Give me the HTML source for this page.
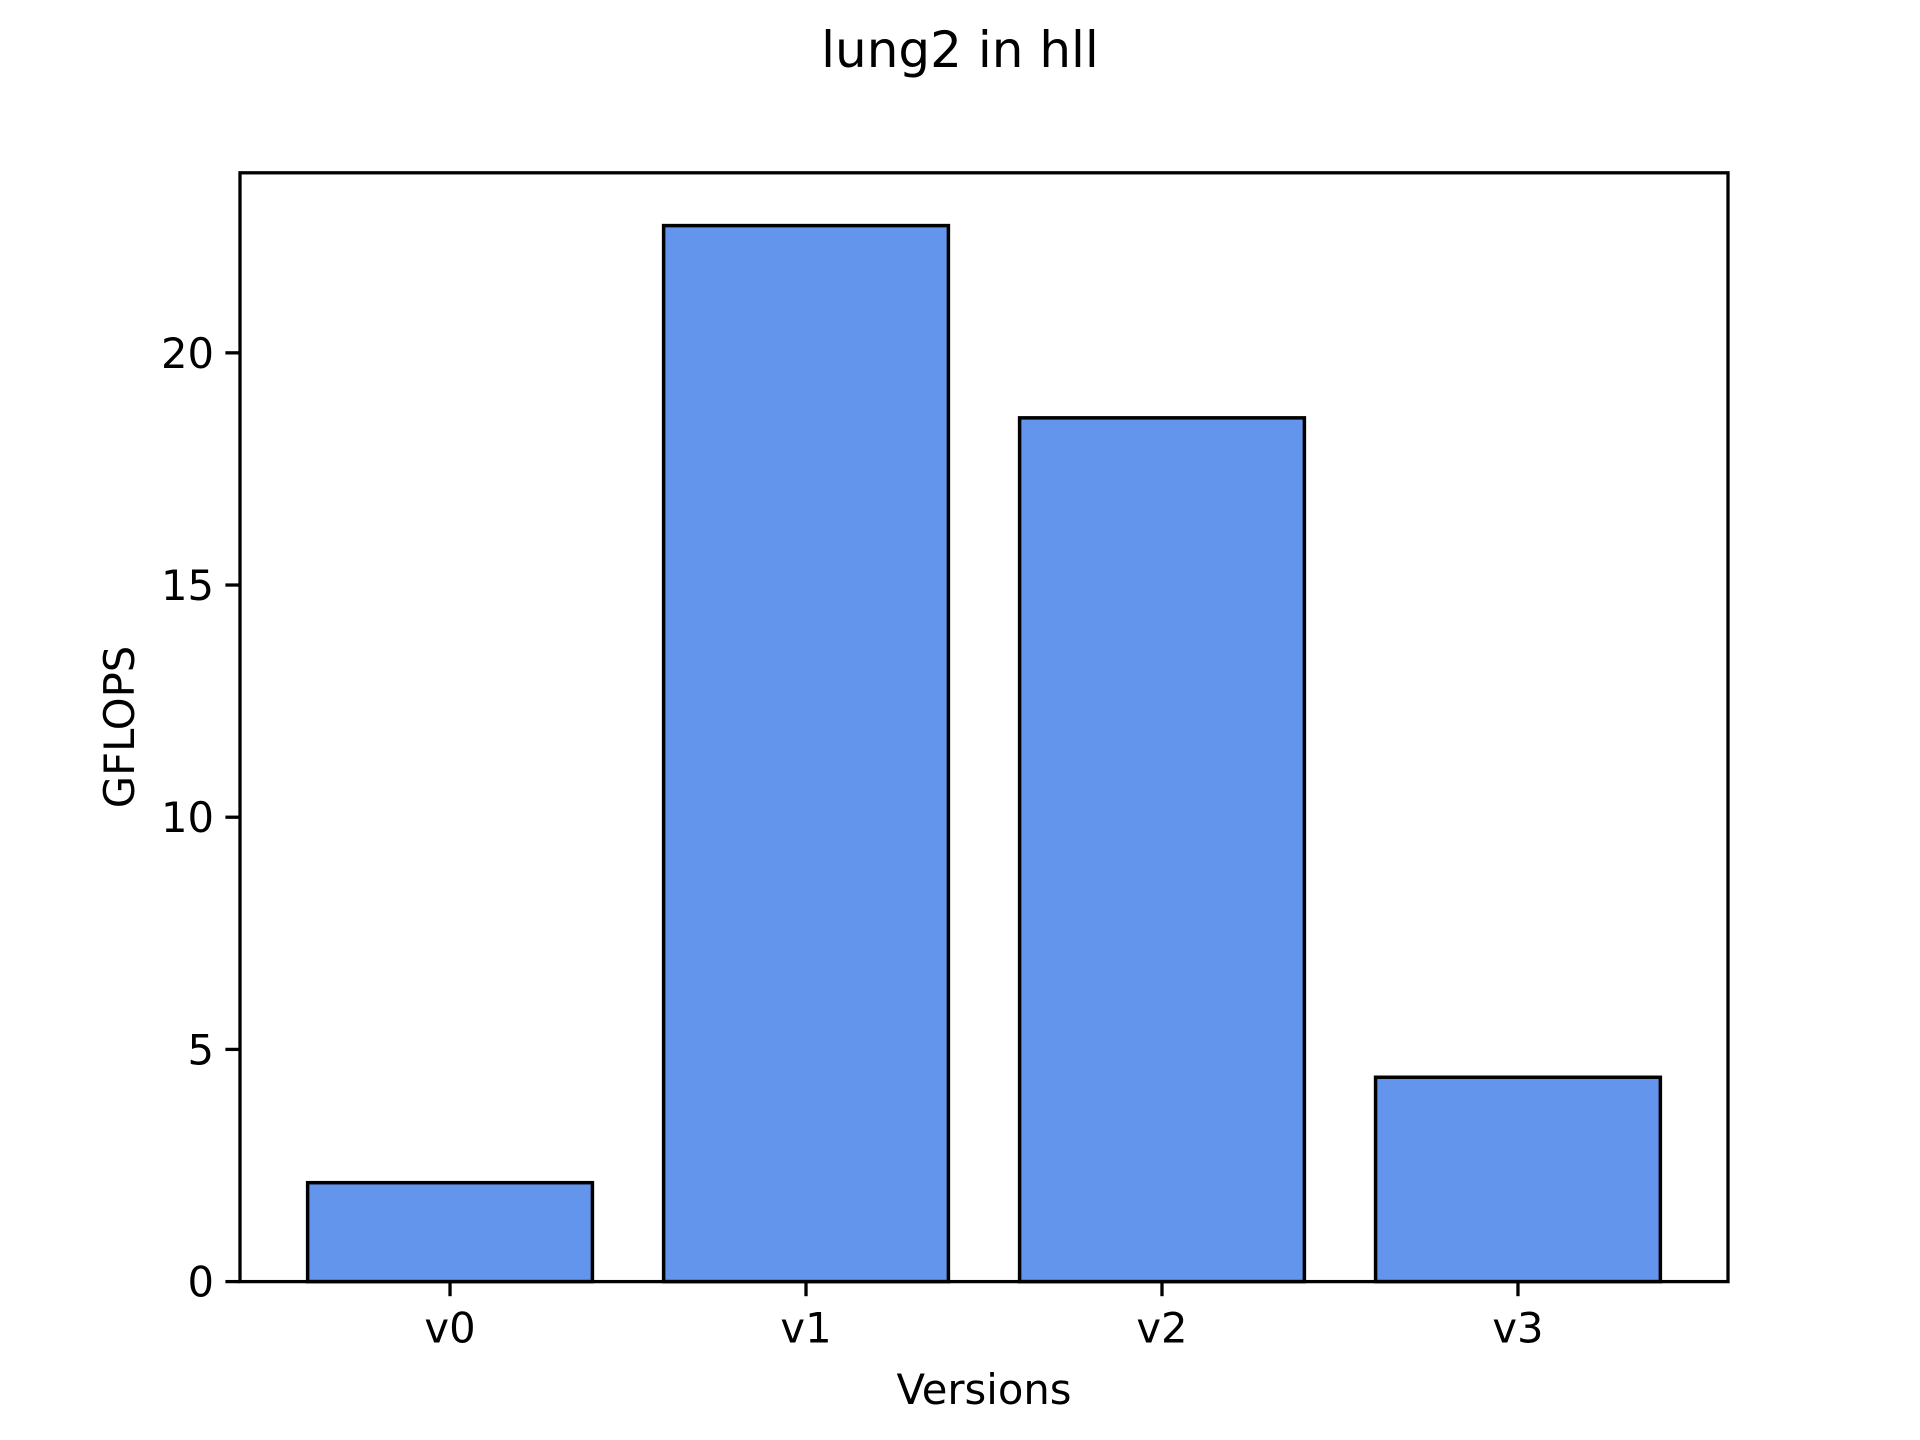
<!DOCTYPE html>
<html><head><meta charset="utf-8"><style>html,body{margin:0;padding:0;background:#fff}svg{display:block}text{font-family:"DejaVu Sans","Liberation Sans",sans-serif;fill:#000}</style></head>
<body>
<svg id="chart" width="1920" height="1440" viewBox="0 0 1920 1440" xmlns="http://www.w3.org/2000/svg">
<rect width="1920" height="1440" fill="#fff"/>
<text x="960" y="67" font-size="50" text-anchor="middle">lung2 in hll</text>
<g id="bars"></g>
<g id="axes"></g>
<text x="984" y="1404" font-size="41.7" text-anchor="middle">Versions</text>
<text transform="translate(134,727) rotate(-90)" font-size="41.7" text-anchor="middle">GFLOPS</text>
</svg>
<script>
const categories = ["v0","v1","v2","v3"];
const values = [2.13, 22.74, 18.6, 4.40];
const yTicks = [0,5,10,15,20];
const L=240,R=1728,T=172.8,B=1281.6;
const ymax = Math.max(...values)*1.05;
const xmin=-0.59, xmax=categories.length-1+0.59;
const sx=v=>L+(v-xmin)/(xmax-xmin)*(R-L);
const sy=v=>B-v/ymax*(B-T);
const NS="http://www.w3.org/2000/svg";
const bars=document.getElementById('bars'), axes=document.getElementById('axes');
function mk(tag,attrs,parent){const e=document.createElementNS(NS,tag);for(const k in attrs)e.setAttribute(k,attrs[k]);parent.appendChild(e);return e;}
values.forEach((v,i)=>{
  const r=mk('rect',{x:sx(i-0.4),y:sy(v),width:sx(i+0.4)-sx(i-0.4),height:sy(0)-sy(v),fill:'#6495ED',stroke:'#000','stroke-width':3.5},bars);
  
  
  const t=mk('line',{x1:sx(i),x2:sx(i),y1:B,y2:B+14.6,stroke:'#000','stroke-width':3.3},axes);
  
  
  const lb=mk('text',{x:sx(i),y:B+61,'font-size':41.7,'text-anchor':'middle'},axes);
  lb.textContent=categories[i];
  
  
});
yTicks.forEach(v=>{
  const t=mk('line',{x1:L-14.6,x2:L,y1:sy(v),y2:sy(v),stroke:'#000','stroke-width':3.3},axes);
  
  
  const lb=mk('text',{x:L-26,y:sy(v)+15,'font-size':41.7,'text-anchor':'end'},axes);
  lb.textContent=v;
  
  
});
const f=mk('rect',{x:L,y:T,width:R-L,height:B-T,fill:'none',stroke:'#000','stroke-width':3.3},axes);


</script>
</body></html>
